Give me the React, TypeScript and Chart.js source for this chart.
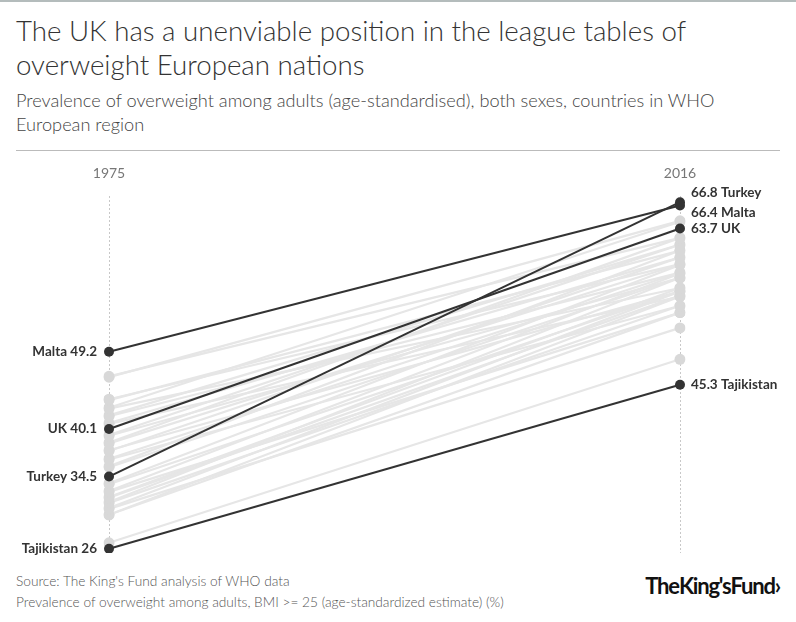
import React, { useEffect, useRef } from "react";
import { Chart, registerables } from "chart.js";

Chart.register(...registerables);

const years = ["1975", "2016"];

const highlightNames = ["Turkey", "Malta", "UK", "Tajikistan"];
const highlight1975 = [34.5, 49.2, 40.1, 26];
const highlight2016 = [66.8, 66.4, 63.7, 45.3];
const highlightRightDy = [-10, 7, 0, 0];

const other1975 = [
  46.3, 46.2, 43.6, 43.5, 42.6, 42.5, 41.7, 41.6, 40.8, 40.7, 39.4, 39.3, 38.5,
  38.4, 37.6, 37.5, 36.6, 36.5, 35.7, 35.6, 33.7, 33.6, 32.8, 32.7, 32.1, 32.0,
  31.5, 31.4, 30.8, 30.7, 30.0, 30.0, 26.7,
];
const other2016 = [
  62.6, 64.6, 59.5, 61.1, 64.5, 56.7, 61.8, 58.5, 60.3, 55.7, 61.8, 57.9, 62.6,
  59.5, 56.3, 60.3, 58.5, 54.6, 61.1, 57.9, 59.4, 56.3, 58.4, 53.8, 56.7, 55.8,
  57.9, 54.6, 56.3, 52.0, 55.7, 53.8, 48.3,
];

const DARK = "#333333";
const GREY_LINE = "#e6e6e6";
const GREY_DOT = "#d8d8d8";

const labelPlugin = {
  id: "slopeLabels",
  afterDatasetsDraw(chart: any) {
    const ctx = chart.ctx;
    ctx.save();
    ctx.font = "bold 13.5px Lato, sans-serif";
    ctx.fillStyle = DARK;
    ctx.textBaseline = "middle";
    highlightNames.forEach((name, i) => {
      const meta = chart.getDatasetMeta(i);
      const p0 = meta.data[0];
      const p1 = meta.data[1];
      ctx.textAlign = "right";
      ctx.fillText(`${name} ${highlight1975[i]}`, p0.x - 12, p0.y);
      ctx.textAlign = "left";
      ctx.fillText(`${highlight2016[i]} ${name}`, p1.x + 11, p1.y + highlightRightDy[i]);
    });
    ctx.restore();
  },
};

export default function App() {
  const ref = useRef<HTMLCanvasElement>(null);

  useEffect(() => {
    if (!ref.current) return;
    const datasets: any[] = [];
    highlightNames.forEach((name, i) => {
      datasets.push({
        label: name,
        data: [highlight1975[i], highlight2016[i]],
        borderColor: DARK,
        backgroundColor: DARK,
        pointBackgroundColor: DARK,
        pointBorderColor: DARK,
        borderWidth: 2,
        pointRadius: 5,
        pointBorderWidth: 0,
        order: 0,
      });
    });
    other1975.forEach((v, i) => {
      datasets.push({
        label: "c" + i,
        data: [v, other2016[i]],
        borderColor: GREY_LINE,
        backgroundColor: GREY_DOT,
        pointBackgroundColor: GREY_DOT,
        pointBorderColor: GREY_DOT,
        borderWidth: 2.2,
        pointRadius: 5.5,
        pointBorderWidth: 0,
        order: 1,
      });
    });
    const chart = new Chart(ref.current, {
      type: "line",
      data: { labels: years, datasets },
      options: {
        animation: false,
        responsive: false,
        maintainAspectRatio: false,
        layout: { padding: { left: 109, right: 116, top: 0, bottom: 7 } },
        plugins: { legend: { display: false }, tooltip: { enabled: false }, title: { display: false } },
        scales: {
          x: {
            position: "top",
            offset: false,
            grid: { color: "#c8c8c8", drawTicks: false, lineWidth: 1 },
            border: { display: false, dash: [2, 2] },
            ticks: { color: "#777", font: { family: "Lato, sans-serif", size: 14 }, padding: 14 },
          },
          y: { display: false, min: 25.5, max: 67.55 },
        },
      },
      plugins: [labelPlugin],
    });
    return () => chart.destroy();
  }, []);

  return (
    <div style={{ position: "absolute", left: 0, top: 0, width: 796, height: 622, background: "#fff", fontFamily: "Lato, sans-serif", color: "#333", overflow: "hidden" }}>
      <div style={{ position: "absolute", left: 0, top: 0, width: 796, height: 2, background: "#b4bcbc" }} />
      <div style={{ position: "absolute", left: 16, top: 14, fontSize: 27.7, lineHeight: "34px", fontWeight: 300, whiteSpace: "nowrap" }}>
        The UK has a unenviable position in the league tables of
        <br />
        overweight European nations
      </div>
      <div style={{ position: "absolute", left: 16, top: 88, fontSize: 18.2, lineHeight: "24px", fontWeight: 300, color: "#444", whiteSpace: "nowrap" }}>
        Prevalence of overweight among adults (age-standardised), both sexes, countries in WHO
        <br />
        European region
      </div>
      <div style={{ position: "absolute", left: 16, top: 150, width: 764, height: 1, background: "#bbb" }} />
      <canvas ref={ref} width={796} height={409} style={{ position: "absolute", left: 0, top: 151, width: 796, height: 409 }} />
      <div style={{ position: "absolute", left: 16, top: 570, fontSize: 13.7, lineHeight: "21px", fontWeight: 300, color: "#555", whiteSpace: "nowrap" }}>
        Source: The King's Fund analysis of WHO data
        <br />
        Prevalence of overweight among adults, BMI &gt;= 25 (age-standardized estimate) (%)
      </div>
      <div style={{ position: "absolute", right: 16, top: 573, fontSize: 22, lineHeight: "26px", fontWeight: 700, color: "#111", letterSpacing: -1.2, wordSpacing: -4, whiteSpace: "nowrap" }}>
        The King's Fund›
      </div>
    </div>
  );
}
